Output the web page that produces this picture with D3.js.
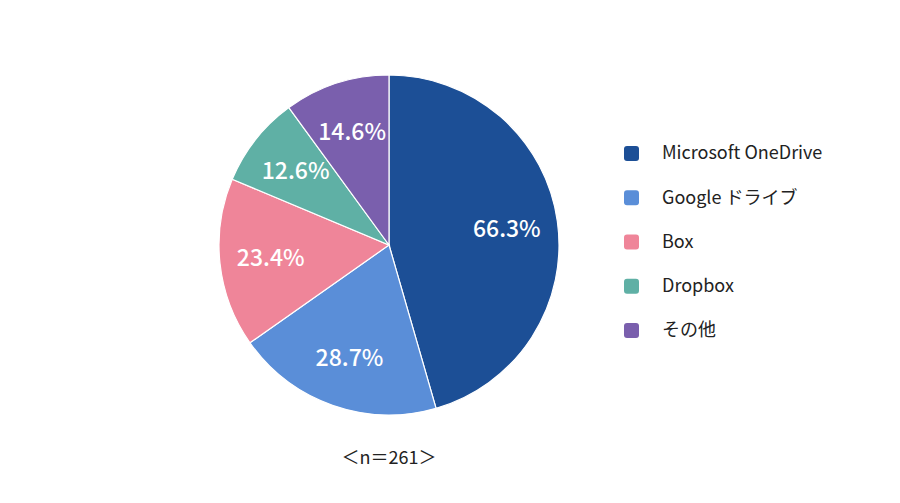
<!DOCTYPE html>
<html>
<head>
<meta charset="utf-8">
<script src="https://d3js.org/d3.v7.min.js"></script>
<style>
  body { margin: 0; background: #fff; }
  svg { font-family: "Noto Sans CJK JP", "Noto Sans", sans-serif; }
</style>
</head>
<body>
<svg id="chart" width="900" height="503"></svg>
<script>
// data (multiple answer, so shares add up past 100)
const categories = ["Microsoft OneDrive", "Google ドライブ", "Box", "Dropbox", "その他"];
const values = [66.3, 28.7, 23.4, 12.6, 14.6];
const colors = ["#1c4f96", "#5a8ed8", "#ef8599", "#5fb0a5", "#7a5fad"];
const sampleNote = "＜n＝261＞";

const svg = d3.select("#chart");
const cx = 389, cy = 245, radius = 170;

const pie = d3.pie().sort(null).value(d => d.value);
const arcs = pie(categories.map((c, i) => ({ name: c, value: values[i] })));

const arc = d3.arc().innerRadius(0).outerRadius(radius);
const labelArc = d3.arc().innerRadius(radius * 0.7).outerRadius(radius * 0.7);

const g = svg.append("g").attr("transform", `translate(${cx},${cy})`);

g.selectAll("path")
  .data(arcs)
  .join("path")
    .attr("d", arc)
    .attr("fill", (d, i) => colors[i])
    .attr("stroke", "#fff")
    .attr("stroke-width", 1.2);

g.selectAll("text")
  .data(arcs)
  .join("text")
    .attr("transform", d => `translate(${labelArc.centroid(d)})`)
    .attr("text-anchor", "middle")
    .attr("dy", "0.36em")
    .attr("fill", "#fff")
    .attr("font-size", 23)
    .attr("font-weight", 500)
    .text(d => d.data.value.toFixed(1) + "%");

// legend
const legendY = d3.scalePoint().domain(categories).range([153, 330]);
const legend = svg.append("g");
const rows = legend.selectAll("g")
  .data(categories)
  .join("g")
    .attr("transform", d => `translate(624,${legendY(d)})`);

rows.append("rect")
  .attr("x", 0).attr("y", -7)
  .attr("width", 15).attr("height", 15)
  .attr("rx", 3)
  .attr("fill", (d, i) => colors[i]);

rows.append("text")
  .attr("x", 38)
  .attr("dy", "0.36em")
  .attr("font-size", 18)
  .attr("fill", "#222")
  .text(d => d);

svg.append("text")
  .attr("x", cx).attr("y", 458)
  .attr("text-anchor", "middle")
  .attr("dy", "0.36em")
  .attr("font-size", 18)
  .attr("fill", "#222")
  .text(sampleNote);
</script>
</body>
</html>
